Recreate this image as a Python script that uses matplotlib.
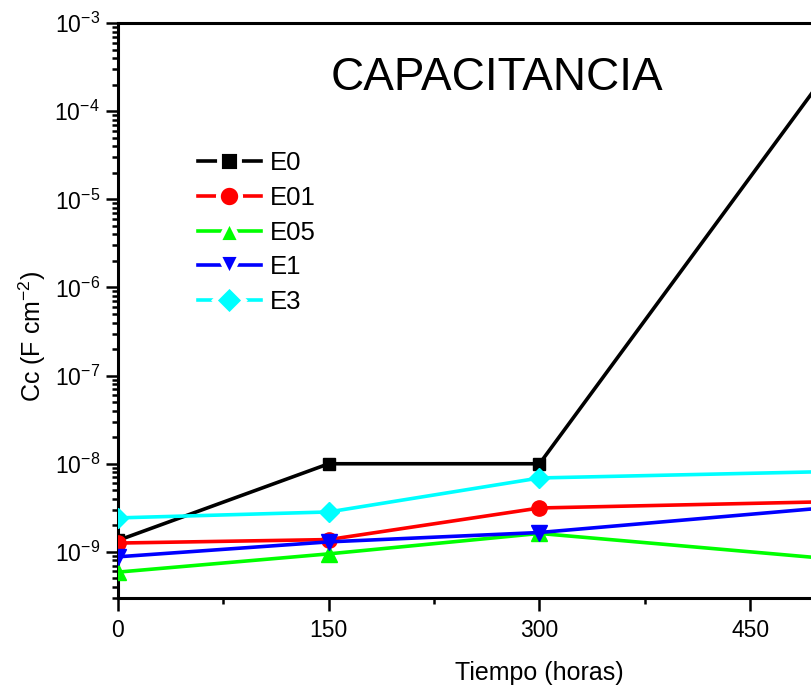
import matplotlib
matplotlib.use("Agg")
import matplotlib.pyplot as plt
from matplotlib.lines import Line2D
from matplotlib.ticker import FixedLocator, MultipleLocator, LogLocator, NullFormatter

plt.rcParams['font.family'] = ['Liberation Sans', 'DejaVu Sans']
plt.rcParams['mathtext.fontset'] = 'custom'
plt.rcParams['mathtext.rm'] = 'Liberation Sans'
plt.rcParams['mathtext.it'] = 'Liberation Sans'
plt.rcParams['axes.unicode_minus'] = False

# Exposure time (hours)
tiempo = [0, 150, 300, 600]

# Coating capacitance (F cm^-2) per formulation
E0 = [1.35e-9, 1.0e-8, 1.0e-8, 3.2e-2]
E01 = [1.26e-9, 1.38e-9, 3.15e-9, 4.0e-9]
E05 = [0.59e-9, 0.95e-9, 1.62e-9, 0.62e-9]
E1 = [0.88e-9, 1.30e-9, 1.66e-9, 4.3e-9]
E3 = [2.43e-9, 2.84e-9, 6.9e-9, 8.8e-9]

x_ticks = [0, 150, 300, 450]
y_ticks = [1e-9, 1e-8, 1e-7, 1e-6, 1e-5, 1e-4, 1e-3]

series = [
    ("E0", E0, "black", "s", 9),
    ("E01", E01, "red", "o", 11),
    ("E05", E05, "#00ff00", "^", 11),
    ("E1", E1, "blue", "v", 11),
    ("E3", E3, "cyan", "D", 10),
]

fig = plt.figure(figsize=(8.12, 6.89), dpi=100)
W, H = 812, 689
x0, x1 = 118, 961
y_top, y_bot = 23, 598
ax = fig.add_axes([x0 / W, 1 - y_bot / H, (x1 - x0) / W, (y_bot - y_top) / H])

for name, vals, col, mk, ms in series:
    ax.plot(tiempo, vals, color=col, lw=2.6, marker=mk, ms=ms,
            mec=col, mfc=col, clip_on=True, zorder=3)

ax.set_yscale('log')
ax.set_xlim(0, 600)
ax.set_ylim(3e-10, 1e-3)

ax.xaxis.set_major_locator(FixedLocator(x_ticks))
ax.xaxis.set_minor_locator(MultipleLocator(75))
ax.yaxis.set_major_locator(FixedLocator(y_ticks))
ax.yaxis.set_minor_locator(LogLocator(base=10, subs=range(2, 10), numticks=100))
ax.yaxis.set_minor_formatter(NullFormatter())

ax.tick_params(axis='both', which='major', direction='out', length=9, width=1.8,
               labelsize=16.5, pad=6)
ax.tick_params(axis='y', which='major', pad=4)
ax.tick_params(axis='both', which='minor', direction='out', length=4, width=1.8)
ax.tick_params(top=False, right=False)

for sp in ax.spines.values():
    sp.set_linewidth(2.2)

ax.set_xlabel("Tiempo (horas)", fontsize=18, labelpad=14)
ax.set_ylabel(r"Cc (F cm$^{-2}$)", fontsize=18)
ax.yaxis.set_label_coords((48 - x0) / (x1 - x0), 1 - (336 - y_top) / (y_bot - y_top))

fig.text(497 / W, 1 - 78 / H, "CAPACITANCIA", fontsize=33, ha='center', va='center')

# Legend handles: white halo around each marker leaves a gap in the line
handles = [Line2D([], [], color=col, lw=2.6, marker=mk, ms=ms + 5, mfc=col,
                  mec='white', mew=3.5) for name, vals, col, mk, ms in series]
labels = [s[0] for s in series]
leg = fig.legend(handles, labels, loc='upper left',
                 bbox_to_anchor=(198 / W, 1 - 151 / H), frameon=False,
                 fontsize=18.5, handlelength=2.45, handletextpad=0.35,
                 labelspacing=0.42, borderaxespad=0, borderpad=0)

fig.savefig("out.png", dpi=100)
